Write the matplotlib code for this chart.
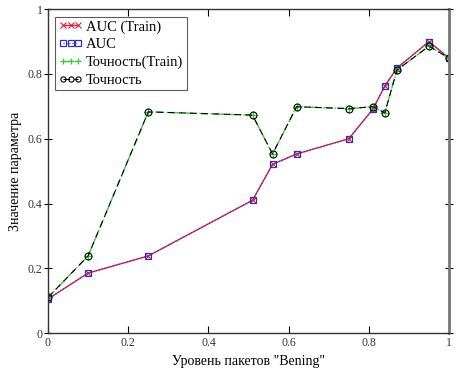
import matplotlib
matplotlib.use("Agg")
import matplotlib.pyplot as plt

plt.rcParams["font.family"] = ["Liberation Serif", "DejaVu Serif"]

# уровень пакетов "Bening"
x = [0.0, 0.1, 0.25, 0.51, 0.56, 0.62, 0.75, 0.81, 0.84, 0.87, 0.95, 1.0]
auc_train = [0.105, 0.185, 0.238, 0.41, 0.521, 0.553, 0.60, 0.691, 0.763, 0.818, 0.90, 0.849]
auc = [0.105, 0.185, 0.238, 0.41, 0.521, 0.553, 0.60, 0.691, 0.763, 0.818, 0.90, 0.849]
acc_train = [0.11, 0.238, 0.683, 0.673, 0.553, 0.699, 0.693, 0.699, 0.680, 0.812, 0.886, 0.849]
acc = [0.11, 0.238, 0.683, 0.673, 0.553, 0.699, 0.693, 0.699, 0.680, 0.812, 0.886, 0.849]

fig = plt.figure(figsize=(4.65, 3.74), dpi=100)
ax = fig.add_axes([0.1032, 0.1096, 0.8624, 0.8657])

ax.plot(x, auc_train, color="#e8203a", lw=1.0, ls="-", marker="x", ms=5,
        mew=0.8, label="AUC (Train)")
ax.plot(x, auc, color="#3030c0", lw=0.8, ls=":", marker="s", ms=5,
        mfc="none", mew=0.9, label="AUC")
ax.plot(x, acc_train, color="#30d030", lw=1.0, ls="-.", marker="+", ms=6,
        mew=0.9, label="Точность(Train)")
ax.plot(x, acc, color="black", lw=0.8, ls=(0, (6, 4)), marker="o", ms=5,
        mfc="none", mew=0.8, label="Точность")

ax.set_xlim(0, 1)
ax.set_ylim(0, 1)
ax.set_xticks([0, 0.2, 0.4, 0.6, 0.8, 1])
ax.set_xticklabels(["0", "0.2", "0.4", "0.6", "0.8", "1"])
ax.set_yticks([0, 0.2, 0.4, 0.6, 0.8, 1])
ax.set_yticklabels(["0", "0.2", "0.4", "0.6", "0.8", "1"])
ax.tick_params(axis="x", direction="in", top=True, labelsize=8.5, length=5, pad=3,
               labelcolor="#333333")
ax.tick_params(axis="y", direction="inout", right=True, labelsize=8.5, length=6, pad=1,
               labelcolor="#333333")

for side in ["left", "bottom", "top"]:
    ax.spines[side].set_linewidth(1.0)
    ax.spines[side].set_color("#333333")
ax.spines["right"].set_linewidth(2.0)
ax.spines["right"].set_color("#777777")

ax.set_xlabel('Уровень пакетов "Bening"', fontsize=10, labelpad=4)
ax.set_ylabel("Значение параметра", fontsize=10, labelpad=4)

leg = ax.legend(loc="upper left", numpoints=3, fontsize=10.5, frameon=True,
                fancybox=False, edgecolor="#333333", handlelength=1.6,
                handletextpad=0.25, borderpad=0.25, labelspacing=0.3,
                borderaxespad=0.5, markerscale=0.75)
leg.get_frame().set_linewidth(0.8)

fig.savefig("out.png", dpi=100)
